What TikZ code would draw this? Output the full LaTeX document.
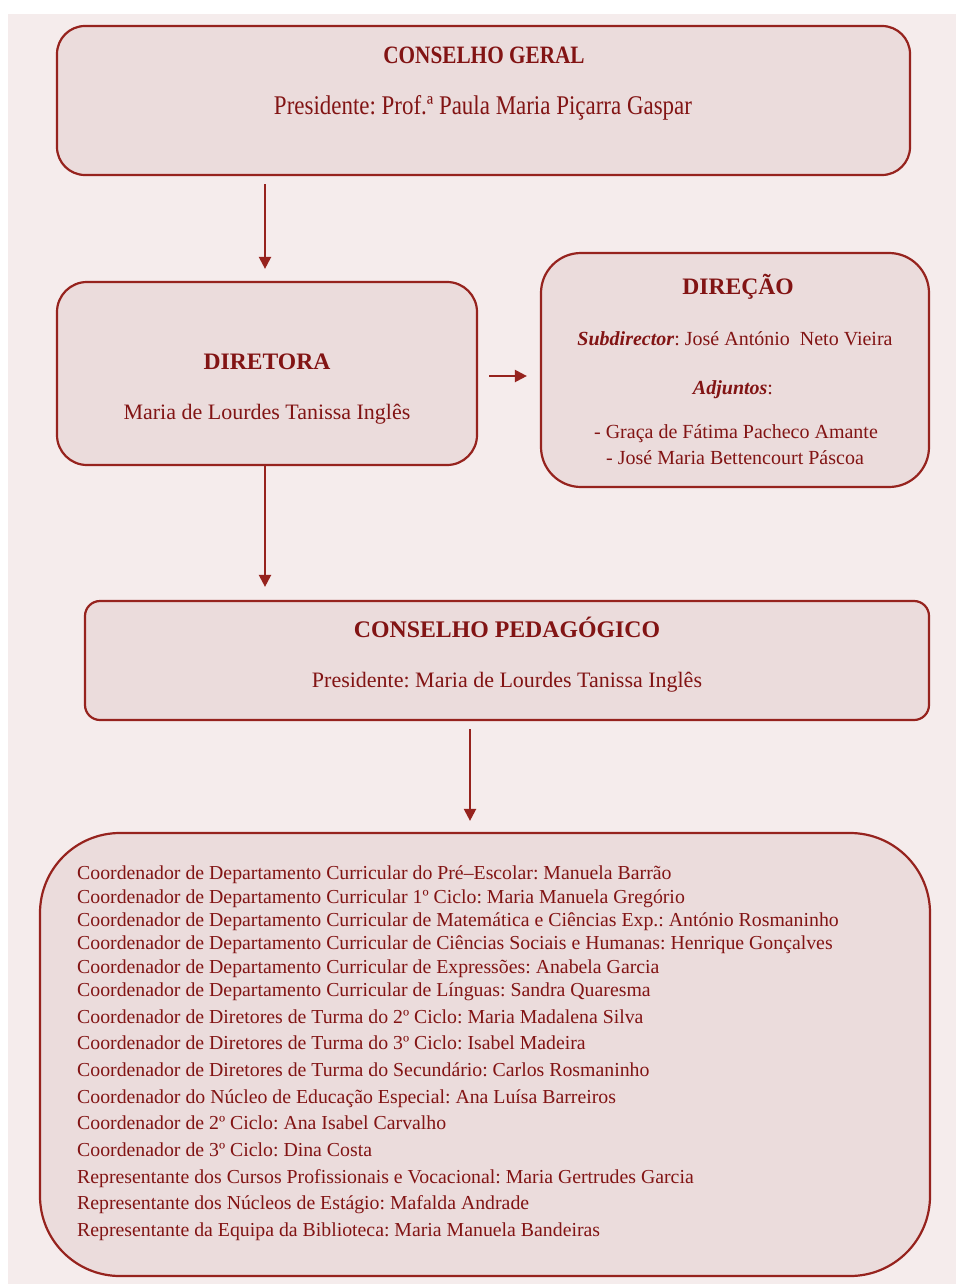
\documentclass[tikz,border=0pt]{standalone}
\usepackage{fontspec}
\setmainfont{Liberation Serif}
\newfontfamily\condserif[FakeStretch=0.85]{Liberation Serif}
\usetikzlibrary{arrows.meta}
\definecolor{bgc}{RGB}{245,236,236}
\definecolor{boxfill}{RGB}{235,220,220}
\definecolor{boxline}{RGB}{150,35,30}
\definecolor{txt}{RGB}{130,20,20}
\frenchspacing
\begin{document}
\begin{tikzpicture}[x=1pt,y=-1pt,
  orgbox/.style={draw=boxline,fill=boxfill,line width=2.2pt,inner sep=0pt,rectangle},
  link/.style={draw=boxline,line width=2.2pt,-{Triangle[length=12pt,width=12pt]}},
  lbl/.style={text=txt,inner sep=0pt,anchor=base},
  listline/.style={text=txt,inner sep=0pt,anchor=base west,font=\fontsize{19.8}{22}\selectfont}]
\useasboundingbox (0,0) rectangle (956,1284);
\fill[bgc] (8,14) rectangle (956,1284);

% boxes
\node[orgbox,minimum width=853pt,minimum height=149pt,rounded corners=28pt] (cg) at (483.5,100.5) {};
\node[orgbox,minimum width=420pt,minimum height=183pt,rounded corners=30pt] (dir) at (267,373.5) {};
\node[orgbox,minimum width=388pt,minimum height=234pt,rounded corners=40pt] (direc) at (735,370) {};
\node[orgbox,minimum width=844pt,minimum height=119pt,rounded corners=15pt] (cp) at (507,660.5) {};
\node[orgbox,minimum width=890pt,minimum height=443pt,rounded corners=80pt] (list) at (485,1054.5) {};

% Conselho Geral texts
\node[lbl,font=\condserif\bfseries\fontsize{25}{28}\selectfont] (cgt) at (484,64) {CONSELHO GERAL};
\node[lbl,font=\condserif\fontsize{27}{30}\selectfont] (cgp) at (483,115) {Presidente: Prof.ª Paula Maria Piçarra Gaspar};

% Diretora texts
\node[lbl,font=\bfseries\fontsize{23.6}{26}\selectfont] (dirt) at (267,369) {DIRETORA};
\node[lbl,font=\fontsize{22}{25}\selectfont] (dirn) at (267,419) {Maria de Lourdes Tanissa Inglês};

% Direcao texts
\node[lbl,font=\bfseries\fontsize{23.6}{26}\selectfont] (dct) at (738,294) {DIREÇÃO};
\node[lbl,font=\fontsize{20}{23}\selectfont] (dcs) at (735,345) {\textbf{\textit{Subdirector}}: José António\ \ Neto Vieira};
\node[lbl,font=\fontsize{20}{23}\selectfont] (dca) at (733,394) {\textbf{\textit{Adjuntos}}:};
\node[lbl,font=\fontsize{20}{23}\selectfont] (dc1) at (736,438) {- Graça de Fátima Pacheco Amante};
\node[lbl,font=\fontsize{20}{23}\selectfont] (dc2) at (735,464) {- José Maria Bettencourt Páscoa};

% Conselho Pedagogico texts
\node[lbl,font=\bfseries\fontsize{23.8}{26}\selectfont] (cpt) at (507,637) {CONSELHO PEDAGÓGICO};
\node[lbl,font=\fontsize{22}{25}\selectfont] (cpp) at (507,687) {Presidente: Maria de Lourdes Tanissa Inglês};

% list
\node[listline] (l1) at (77,879) {Coordenador de Departamento Curricular do Pré–Escolar: Manuela Barrão};
\node[listline] (l2) at (77,903) {Coordenador de Departamento Curricular 1º Ciclo: Maria Manuela Gregório};
\node[listline] (l3) at (77,926) {Coordenador de Departamento Curricular de Matemática e Ciências Exp.: António Rosmaninho};
\node[listline] (l4) at (77,949) {Coordenador de Departamento Curricular de Ciências Sociais e Humanas: Henrique Gonçalves};
\node[listline] (l5) at (77,973) {Coordenador de Departamento Curricular de Expressões: Anabela Garcia};
\node[listline] (l6) at (77,996) {Coordenador de Departamento Curricular de Línguas: Sandra Quaresma};
\node[listline] (l7) at (77,1023) {Coordenador de Diretores de Turma do 2º Ciclo: Maria Madalena Silva};
\node[listline] (l8) at (77,1049) {Coordenador de Diretores de Turma do 3º Ciclo: Isabel Madeira};
\node[listline] (l9) at (77,1076) {Coordenador de Diretores de Turma do Secundário: Carlos Rosmaninho};
\node[listline] (l10) at (77,1103) {Coordenador do Núcleo de Educação Especial: Ana Luísa Barreiros};
\node[listline] (l11) at (77,1129) {Coordenador de 2º Ciclo: Ana Isabel Carvalho};
\node[listline] (l12) at (77,1156) {Coordenador de 3º Ciclo: Dina Costa};
\node[listline] (l13) at (77,1183) {Representante dos Cursos Profissionais e Vocacional: Maria Gertrudes Garcia};
\node[listline] (l14) at (77,1209) {Representante dos Núcleos de Estágio: Mafalda Andrade};
\node[listline] (l15) at (77,1236) {Representante da Equipa da Biblioteca: Maria Manuela Bandeiras};

% connectors
\coordinate (xa) at (265,0);
\coordinate (xb) at (470,0);
\draw[link,shorten <=8pt,shorten >=12pt] (xa |- cg.south) -- (xa |- dir.north);
\draw[link,shorten <=11pt,shorten >=13pt] (dir.east |- 0,376) -- (direc.west |- 0,376);
\draw[link,shorten <=0pt,shorten >=13pt] (xa |- dir.south) -- (xa |- cp.north);
\draw[link,shorten <=8pt,shorten >=11pt] (xb |- cp.south) -- (xb |- list.north);
\end{tikzpicture}
\end{document}
